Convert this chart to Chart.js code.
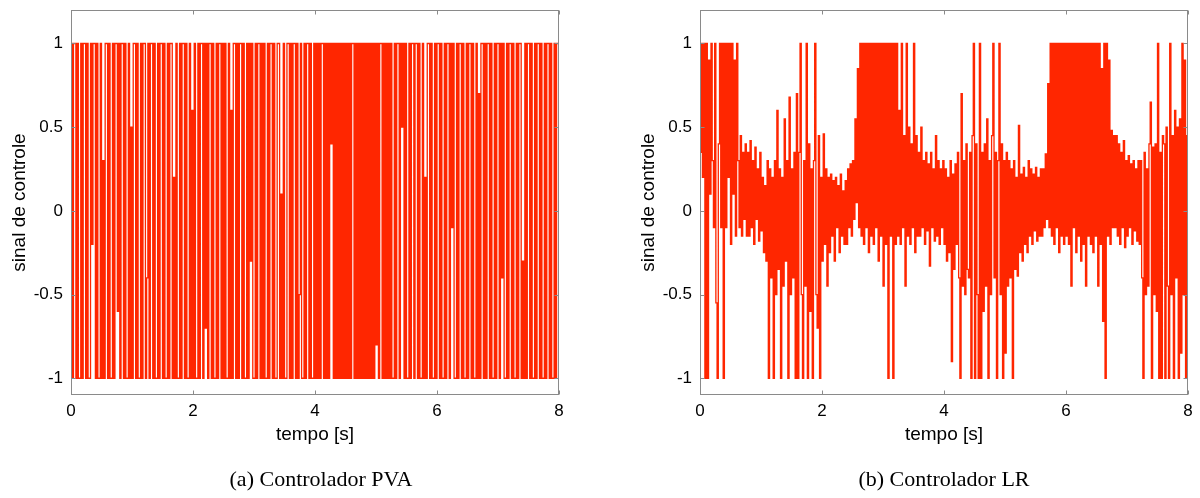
<!DOCTYPE html>
<html>
<head>
<meta charset="utf-8">
<script src="https://cdn.jsdelivr.net/npm/chart.js@4/dist/chart.umd.min.js"></script>
<style>
  body { margin: 0; background: #fff; width: 1200px; height: 498px; position: relative; overflow: hidden; }
  canvas { position: absolute; top: 0; }
  #cvPVA { left: 0; }
  #cvLR { left: 600px; }
  .legenda { position: absolute; top: 466px; font-family: "Liberation Serif", serif; font-size: 22px; color: #000; white-space: nowrap; transform: translateX(-50%); }
</style>
</head>
<body>
<canvas id="cvPVA" width="600" height="498"></canvas>
<canvas id="cvLR" width="600" height="498"></canvas>
<div class="legenda" style="left:321px">(a) Controlador PVA</div>
<div class="legenda" style="left:944px">(b) Controlador LR</div>
<script>
// amostragem do sinal (s)
const passo = 0.02;

const xTicks = [0, 2, 4, 6, 8];
const yTicks = [-1, -0.5, 0, 0.5, 1];

// sinal de controle - controlador PVA (20 amostras por linha)
const sinalPVA = [
  1,-1,1,1,-1,1,-1,-1,1,-1,1,1,-1,1,-1,-1,1,-0.2,1,1,
  -1,1,-1,-1,1,-1,0.3,-1,1,1,-1,1,-1,-1,1,-1,1,1,-0.6,1,
  -1,1,1,-1,1,-1,-1,1,-1,0.5,-1,1,1,-1,1,-1,-1,1,-1,1,
  1,-1,-0.4,1,-1,1,1,-1,1,-1,-1,1,-1,1,1,-1,1,-1,-1,1,
  -1,1,1,-1,0.2,-1,1,-1,-1,1,-1,1,1,-1,1,-1,-1,1,-1,0.6,
  -1,1,-1,-1,1,-1,1,1,-1,1,-0.7,1,-1,1,1,-1,1,-1,-1,1,
  -1,1,1,-1,1,-1,1,-1,-1,1,-1,0.6,-1,1,1,-1,1,-1,1,1,
  -1,1,-1,-1,1,-1,1,-0.3,1,-1,-1,1,-1,1,1,-1,1,-1,1,-1,
  -1,1,-1,1,1,-1,1,-1,-1,1,1,-1,0.1,-1,1,-1,-1,1,1,-1,
  1,-1,1,1,-1,1,-1,-0.5,1,-1,-1,1,-1,1,1,-1,1,-1,-1,1,
  -1,1,-1,1,-1,1,1,-1,1,-1,1,-1,1,0.4,1,-1,1,-1,1,-1,
  1,-1,1,-1,1,-1,1,-1,1,-1,1,1,-1,1,-1,1,-1,1,-1,1,
  -1,1,-1,1,-1,1,-1,1,-1,1,-0.8,1,-1,1,1,-1,1,-1,1,-1,
  1,-1,1,-1,-1,1,-1,1,1,-1,1,0.5,1,-1,1,-1,-1,1,-1,1,
  1,-1,1,1,-1,1,-1,-1,1,-1,0.2,-1,1,1,-1,1,-1,-1,1,-1,
  1,1,-1,1,-1,-1,1,-1,1,1,-1,1,-0.1,1,-1,-1,1,-1,1,1,
  -1,1,-1,-1,1,-1,1,1,-1,1,-1,-1,1,-1,0.7,-1,1,1,-1,1,
  -1,1,1,-1,1,-1,-1,1,-1,1,1,-1,1,-0.4,1,-1,-1,1,-1,1,
  1,-1,1,-1,-1,1,-1,1,1,-1,-0.3,-1,1,-1,1,1,-1,1,-1,-1,
  1,-1,1,1,-1,1,-1,-1,1,-1,1,1,-1,1,-1,-1,1,-1,1,1,
  0.4
];

// sinal de controle - controlador LR
const sinalLR = [
  0.35,1,0.2,1,-1,1,-1,0.9,0.1,1,0.3,-0.1,1,-0.55,-1,0.4,1,-0.1,1,-1,
  1,-0.1,1,0.2,1,-0.2,1,0.1,0.9,-0.15,1,0.3,-0.1,0.45,-0.15,0.35,-0.05,0.4,-0.15,0.35,
  -0.15,0.42,-0.1,0.3,-0.2,0.38,-0.05,0.25,-0.18,0.35,-0.12,0.2,-0.25,0.15,-0.3,0.3,-1,0.25,-0.4,0.2,
  -1,0.3,-0.5,0.6,-0.35,0.25,-1,0.2,-0.45,0.55,-0.3,0.3,-1,0.68,-0.5,0.25,-0.4,0.35,-1,0.7,
  -1,0.35,1,-0.5,-1,0.3,-0.45,1,-1,0.4,-0.6,0.25,-1,0.3,1,-0.5,-0.7,0.45,-1,0.2,
  -0.3,0.46,-0.2,0.25,-0.45,0.2,-0.25,0.22,-0.15,0.18,-0.3,0.2,-0.1,0.15,-0.25,0.22,-0.15,0.12,-0.2,0.18,
  -0.2,0.25,-0.1,0.28,-0.15,0.3,-0.05,0.55,0.05,0.85,-0.1,1,-0.15,1,-0.2,1,-0.1,1,-0.25,1,
  -0.15,1,-0.2,1,-0.1,1,-0.3,1,-0.15,1,-0.45,1,-0.2,1,-1,1,-0.15,1,-1,1,
  -0.2,1,-0.15,0.6,-0.2,1,-0.1,0.45,-0.45,1,-0.15,0.5,-0.2,0.4,-0.1,1,-0.25,0.45,-0.15,0.35,
  -0.15,0.5,-0.1,0.3,-0.2,0.35,-0.12,0.28,-0.33,0.35,-0.1,0.25,-0.18,0.45,-0.15,0.3,-0.2,0.25,-0.1,0.3,
  -0.2,0.25,-0.3,0.2,-0.25,0.3,-0.9,0.22,-0.35,0.28,-0.2,0.35,-0.4,-1,0.7,-0.45,0.3,-0.5,0.4,-0.35,
  -0.4,0.35,-1,0.45,1,-1,0.4,-0.5,-1,1,-1,0.35,-0.6,0.4,-0.45,0.55,-1,0.3,-0.5,0.45,
  1,-0.4,0.35,-1,0.3,1,-0.5,0.4,-1,0.3,-0.85,0.35,-0.45,0.3,-0.4,0.25,-1,0.3,-0.35,0.2,
  -0.39,0.51,-0.25,0.22,-0.3,0.26,-0.2,0.2,-0.25,0.3,-0.15,0.25,-0.2,0.22,-0.12,0.26,-0.18,0.2,-0.15,0.25,
  -0.15,0.25,-0.1,0.34,-0.05,0.76,-0.1,1,-0.15,1,-0.2,1,-0.1,1,-0.25,1,-0.15,1,-0.2,1,
  -0.15,1,-0.2,1,-0.45,1,-0.1,1,-0.25,1,-0.15,1,-0.3,1,-0.2,1,-0.45,1,-0.15,1,
  -0.2,1,-0.25,1,-0.15,1,-0.45,1,-0.2,0.85,-0.66,1,-1,1,-0.15,0.9,-0.2,0.48,-0.1,0.45,
  -0.1,0.45,-0.15,0.4,-0.2,0.35,-0.1,0.42,-0.22,0.3,-0.15,0.33,-0.1,0.28,-0.2,0.3,-0.12,0.25,-0.18,0.3,
  -0.2,0.3,-0.4,-1,0.35,-0.5,0.25,-0.45,0.4,0.65,-1,0.38,-0.5,0.4,-0.6,1,-1,0.35,-1,0.45,
  0.4,-1,0.5,-0.45,-1,1,-0.5,0.45,-1,0.6,-0.4,0.5,-1,0.55,-0.85,1,-0.5,0.9,-1,0.45,
  0.7
];

const corLinha = '#ff2600';
const corEixo = '#8a8a8a';

Chart.defaults.font.family = '"Liberation Sans", Arial, sans-serif';
Chart.defaults.color = '#000';

// caixa estilo matlab com ticks para dentro
const caixaPlugin = {
  id: 'caixa',
  afterDatasetsDraw(chart) {
    const { ctx, chartArea: a, scales: { x, y } } = chart;
    const L = Math.round(a.left) + 0.5, R = Math.round(a.right) - 0.5;
    const T = Math.round(a.top) + 0.5, B = Math.round(a.bottom) - 0.5;
    ctx.save();
    ctx.strokeStyle = corEixo;
    ctx.lineWidth = 1;
    ctx.strokeRect(L, T, R - L, B - T);
    ctx.beginPath();
    const tl = 4;
    x.ticks.forEach(t => {
      const px = Math.round(x.getPixelForValue(t.value)) + 0.5;
      ctx.moveTo(px, B); ctx.lineTo(px, B - tl);
      ctx.moveTo(px, T); ctx.lineTo(px, T + tl);
    });
    y.ticks.forEach(t => {
      const py = Math.round(y.getPixelForValue(t.value)) + 0.5;
      ctx.moveTo(L, py); ctx.lineTo(L + tl, py);
      ctx.moveTo(R, py); ctx.lineTo(R - tl, py);
    });
    ctx.stroke();
    ctx.restore();
  }
};

const semMargem = s => { s.paddingTop = 0; s.paddingBottom = 0; s.paddingLeft = 0; s.paddingRight = 0; };

function montarGrafico(id, sinal, padEsq, padDir) {
  const pontos = sinal.map((v, i) => ({ x: i * passo, y: v }));
  return new Chart(document.getElementById(id), {
    type: 'line',
    data: {
      datasets: [{
        data: pontos,
        borderColor: corLinha,
        borderWidth: 1.3,
        pointRadius: 0,
        stepped: true, // retencao de ordem zero entre amostras
        fill: false
      }]
    },
    options: {
      responsive: false,
      animation: false,
      events: [],
      layout: { padding: { left: padEsq, right: padDir, top: 10, bottom: 48 } },
      plugins: { legend: { display: false }, tooltip: { enabled: false } },
      scales: {
        x: {
          type: 'linear',
          min: 0, max: 8,
          afterBuildTicks: s => { s.ticks = xTicks.map(v => ({ value: v })); },
          afterFit: s => { s.height = 55; semMargem(s); },
          grid: { display: false, drawTicks: false },
          border: { display: false },
          ticks: { font: { size: 17 }, padding: 6, maxRotation: 0, callback: v => String(v) },
          title: { display: true, text: 'tempo [s]', font: { size: 19 }, padding: { top: 0, bottom: 4 } }
        },
        y: {
          min: -1.1, max: 1.2,
          afterBuildTicks: s => { s.ticks = yTicks.map(v => ({ value: v })); },
          afterFit: s => { s.width = 71; semMargem(s); },
          grid: { display: false, drawTicks: false },
          border: { display: false },
          ticks: { font: { size: 17 }, padding: 8, callback: v => String(v) },
          title: { display: true, text: 'sinal de controle', font: { size: 19 }, padding: { top: 8, bottom: 0 } }
        }
      }
    },
    plugins: [caixaPlugin]
  });
}

montarGrafico('cvPVA', sinalPVA, 0, 41);
montarGrafico('cvLR', sinalLR, 29, 12);
</script>
</body>
</html>
